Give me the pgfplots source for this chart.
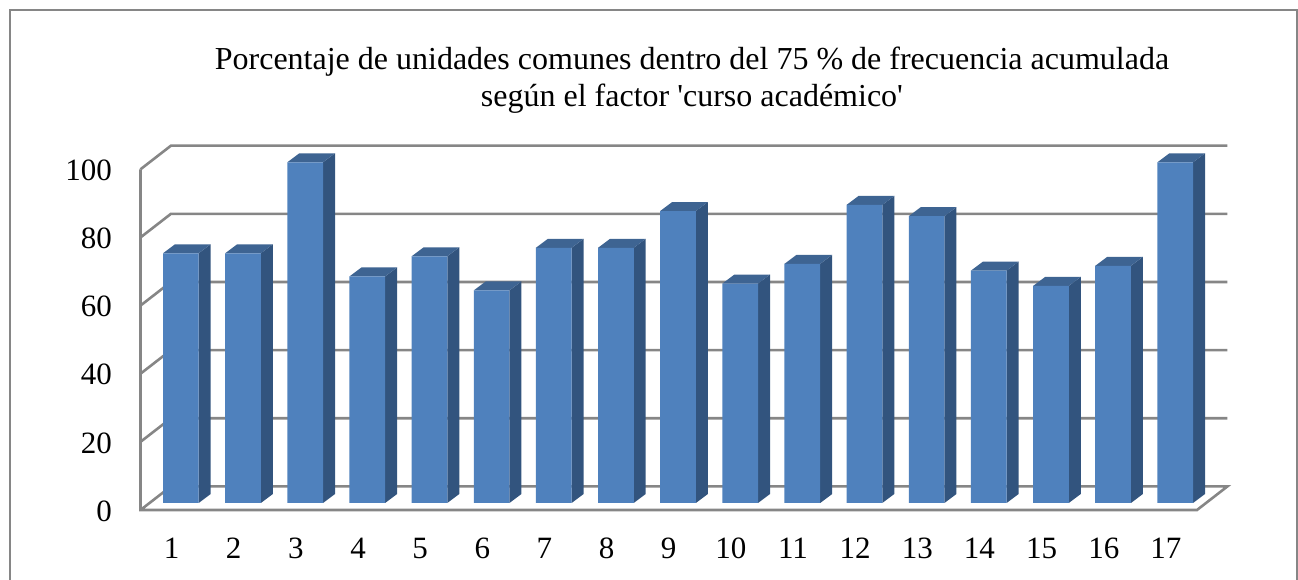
\documentclass[border=0pt]{standalone}
\usepackage{fontspec}
\setmainfont{Liberation Serif}
\usepackage{pgfplots}
\usepackage{pgfplotstable}
\pgfplotsset{compat=1.18}
\definecolor{barfront}{RGB}{79,129,189}
\definecolor{barside}{RGB}{50,84,126}
\definecolor{bartop}{RGB}{62,100,146}
\definecolor{gridc}{RGB}{134,134,134}

\pgfplotstableread{
x  v
1  73.3
2  73.3
3  100
4  66.5
5  72.4
6  62.4
7  74.9
8  74.9
9  85.7
10 64.4
11 70.2
12 87.5
13 84.2
14 68.2
15 63.7
16 69.6
17 100
}\barvals

\begin{document}
\begin{tikzpicture}
  \path[use as bounding box] (0pt,0pt) rectangle (1298pt,580pt);
  \draw[gridc,line width=2pt] (9.5pt,-5pt) -- (9.5pt,569.5pt) -- (1297pt,569.5pt) -- (1297pt,-5pt);
  \begin{axis}[
      at={(140.5pt,70pt)}, anchor=south west,
      scale only axis, width=1056.5pt, height=340.7pt,
      xmin=0.5, xmax=17.5, ymin=0, ymax=100,
      xtick={1,...,17}, ytick={0,20,...,100},
      axis x line=bottom, axis y line=left,
      axis line style={draw=none,-},
      major tick length=0pt, clip=false,
      /pgf/number format/assume math mode=true,
      tick label style={font=\fontsize{31}{31}\selectfont},
      xticklabel style={anchor=north,inner sep=0pt,yshift=-27.7pt},
      yticklabel style={anchor=east,inner sep=0pt,xshift=-28.5pt,yshift=-1pt},
      title={Porcentaje de unidades comunes dentro del 75 \% de frecuencia acumulada\\según el factor \textquotesingle curso académico\textquotesingle},
      title style={font=\fontsize{32}{37}\selectfont,align=center,anchor=south,at={(0.5,1)},xshift=23.25pt,yshift=46.5pt},
    ]
    % back wall and floor
    \pgfplotsinvokeforeach{20,40,60,80,100}{
      \addplot[gridc,line width=2.6pt] coordinates {(0.5,#1)(0.99,#1+6.93)(17.99,#1+6.93)};
    }
    \addplot[gridc,line width=2.6pt] coordinates {(0.5,100)(0.5,0)(17.5,0)(17.99,6.93)(0.99,6.93)(0.5,0)};
    % side and top faces
    \pgfplotsinvokeforeach{0,...,16}{
      \pgfplotstablegetelem{#1}{v}\of\barvals
      \let\val\pgfplotsretval
      \pgfplotstablegetelem{#1}{x}\of\barvals
      \let\cat\pgfplotsretval
      \addplot[fill=barside,draw=none] coordinates {(\cat+0.4368,2.055)(\cat+0.4368,\val+2.055)(\cat+0.6299,\val+4.697)(\cat+0.6299,4.697)};
      \addplot[fill=bartop,draw=none] coordinates {(\cat-0.1376,\val+2.055)(\cat+0.4368,\val+2.055)(\cat+0.6299,\val+4.697)(\cat+0.0555,\val+4.697)};
    }
    % front faces
    \addplot[ybar,bar width=35.7pt,bar shift=9.3pt,yshift=7pt,fill=barfront,draw=none] table[x=x,y=v] {\barvals};
  \end{axis}
\end{tikzpicture}
\end{document}
